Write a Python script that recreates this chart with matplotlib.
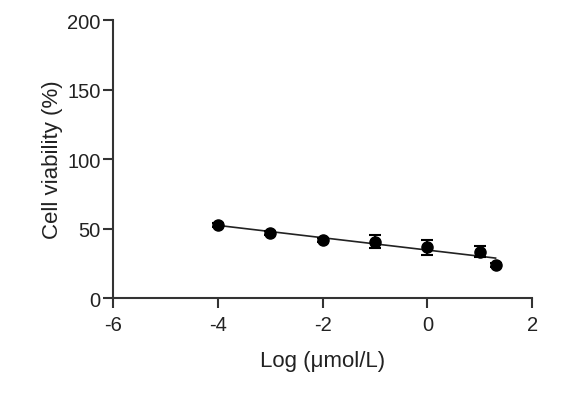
import matplotlib.pyplot as plt
import numpy as np

plt.rcParams['font.family'] = ['Liberation Sans', 'DejaVu Sans']
plt.rcParams['axes.unicode_minus'] = False

# data
log_conc = [-4, -3, -2, -1, 0, 1, 1.301]
viability = [52.5, 47.0, 42.0, 40.5, 36.5, 33.3, 24.0]
err = [1.5, 1.5, 1.5, 4.5, 5.5, 4.0, 1.5]

xticks = [-6, -4, -2, 0, 2]
yticks = [0, 50, 100, 150, 200]

fig = plt.figure(figsize=(5.76, 4.06), dpi=100)
ax = fig.add_axes([0.196, 0.2635, 0.728, 0.6845])

# linear fit
slope, intercept = np.polyfit(log_conc, viability, 1)
xfit = np.linspace(min(log_conc), max(log_conc), 50)
ax.plot(xfit, slope * xfit + intercept, color='#222222', lw=1.2, zorder=2)

ax.errorbar(log_conc, viability, yerr=err, fmt='o', color='black',
            markersize=8, capsize=4, elinewidth=1.5, capthick=1.5, zorder=3)

ax.set_xlim(-6, 2)
ax.set_ylim(0, 200)
ax.set_xticks(xticks)
ax.set_yticks(yticks)

for s in ['top', 'right']:
    ax.spines[s].set_visible(False)
for s in ['left', 'bottom']:
    ax.spines[s].set_linewidth(1.5)
    ax.spines[s].set_color('#333333')

ax.tick_params(width=1.5, length=7, color='#333333', labelsize=14.5,
               labelcolor='#222222')
ax.tick_params(axis='x', pad=5)
ax.tick_params(axis='y', pad=2)

ax.set_xlabel('Log (\u03bcmol/L)', fontsize=16, labelpad=12, color='#222222')
ax.set_ylabel('Cell viability (%)', fontsize=16, labelpad=3, color='#222222')

fig.savefig('out.png', dpi=100)
